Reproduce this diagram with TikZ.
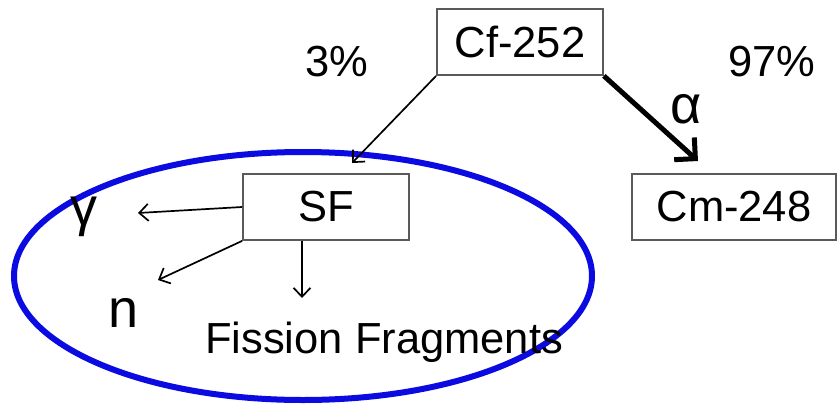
\documentclass[tikz,border=0pt]{standalone}
\usepackage{fontspec}
\setmainfont{Liberation Sans}
\usetikzlibrary{arrows.meta}
\definecolor{ringblue}{RGB}{10,10,225}
\definecolor{boxgray}{RGB}{90,90,90}
\tikzset{
  nucbox/.style={draw=boxgray, line width=1.8pt, minimum height=66pt, inner sep=0pt, font=\fontsize{43.5}{47}\selectfont},
  lbl/.style={inner sep=0pt, font=\fontsize{43.5}{47}\selectfont},
  greek/.style={inner sep=0pt, anchor=base, font=\fontsize{54}{58}\selectfont},
  thin arrow/.style={draw, line width=1.7pt, -{Straight Barb[length=9pt,width=17pt,line width=1.7pt]}},
  thick arrow/.style={draw, line width=5pt, -{Straight Barb[length=15pt,width=30pt,line width=5pt]}},
}
\begin{document}
\begin{tikzpicture}[x=1pt,y=-1pt]
\useasboundingbox (0,0) rectangle (839,405);
\fill[white] (0,0) rectangle (839,405);
% ellipse
\draw[ringblue, line width=6pt] (303,276) ellipse [x radius=289, y radius=124];
% boxes
\node[nucbox, minimum width=166pt] (cf) at (520,42) {Cf-252};
\node[nucbox, minimum width=166pt] (sf) at (326,207) {SF};
\node[nucbox, minimum width=204pt] (cm) at (734,207) {Cm-248};
% labels
\node[lbl] (p3) at (337,62) {3\%};
\node[lbl] (p97) at (772,62) {97\%};
\node[greek] (alpha) at (686,123) {α};
\node[greek] (gamma) at (84,225) {γ};
\node[greek] (n) at (124,327) {n};
\node[lbl, anchor=base west] (ff) at (205,353) {Fission Fragments};
% arrow ends
\coordinate (sfin) at (352,163);
\coordinate (cmin) at (698,161);
\coordinate (gin) at (138,213);
\coordinate (nin) at (158,280);
\coordinate (ffin) at (302,298);
\coordinate (sfb) at (302,241);
% connectors
\path[thin arrow] (cf.south west) -- (sfin);
\path[thick arrow] (cf.south east) -- (cmin);
\path[thin arrow] (sf.west) -- (gin);
\path[thin arrow] (sf.south west) -- (nin);
\path[thin arrow] (sfb) -- (ffin);
\end{tikzpicture}
\end{document}
